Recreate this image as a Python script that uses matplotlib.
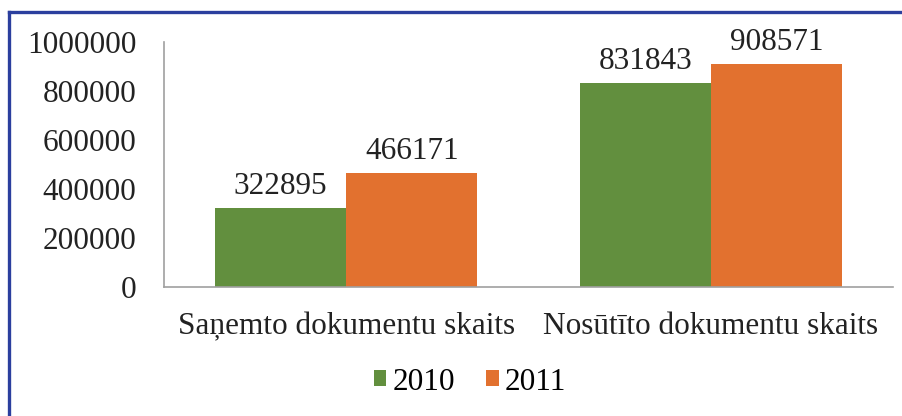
import matplotlib
matplotlib.use("Agg")
import matplotlib.pyplot as plt
import numpy as np
from matplotlib.lines import Line2D
from matplotlib.ticker import FuncFormatter

# data
categories = ["Saņemto dokumentu skaits", "Nosūtīto dokumentu skaits"]
years = ["2010", "2011"]
values_2010 = [322895, 831843]
values_2011 = [466171, 908571]
colors = ["#628f3e", "#e2712f"]

plt.rcParams["font.family"] = ["Liberation Serif", "DejaVu Serif"]
fs = 22.5

fig = plt.figure(figsize=(9.02, 4.16), dpi=100)
ax = fig.add_axes([164 / 902, 1 - 287 / 416, (893 - 164) / 902, (287 - 42) / 416])

x = np.arange(len(categories))
w = 0.36
b1 = ax.bar(x - w / 2, values_2010, w, color=colors[0], label=years[0])
b2 = ax.bar(x + w / 2, values_2011, w, color=colors[1], label=years[1])

for bars in (b1, b2):
    for r in bars:
        ax.annotate(f"{int(r.get_height())}", (r.get_x() + r.get_width() / 2, r.get_height()),
                    xytext=(0, 5), textcoords="offset points", ha="center", va="bottom",
                    fontsize=fs, color="#222222")

ax.set_xlim(-0.5, 1.5)
ax.set_ylim(0, 1000000)
ax.set_yticks(np.arange(0, 1000001, 200000))
ax.yaxis.set_major_formatter(FuncFormatter(lambda v, p: f"{int(v)}"))
ax.set_xticks(x)
ax.set_xticklabels(categories)
ax.tick_params(axis="both", length=0, labelsize=fs, labelcolor="#222222")
ax.tick_params(axis="y", pad=20)
ax.tick_params(axis="x", pad=18)

for s in ("top", "right"):
    ax.spines[s].set_visible(False)
for s in ("left", "bottom"):
    ax.spines[s].set_color("#a0a0a0")
    ax.spines[s].set_linewidth(1.2)

fig.legend(loc="center", bbox_to_anchor=(470 / 902, 1 - 382 / 416), ncol=2, frameon=False,
           fontsize=fs, handlelength=0.4, handleheight=0.4, handletextpad=0.2,
           columnspacing=1.0, borderpad=0)

# blue frame on top and left edges
fig.add_artist(Line2D([9 / 902, 9 / 902], [0, 1 - 11.5 / 416], transform=fig.transFigure,
                      color="#2b3f9e", lw=2.4))
fig.add_artist(Line2D([9 / 902, 1], [1 - 11.5 / 416, 1 - 11.5 / 416], transform=fig.transFigure,
                      color="#2b3f9e", lw=2.4))

fig.savefig("out.png", dpi=100)
